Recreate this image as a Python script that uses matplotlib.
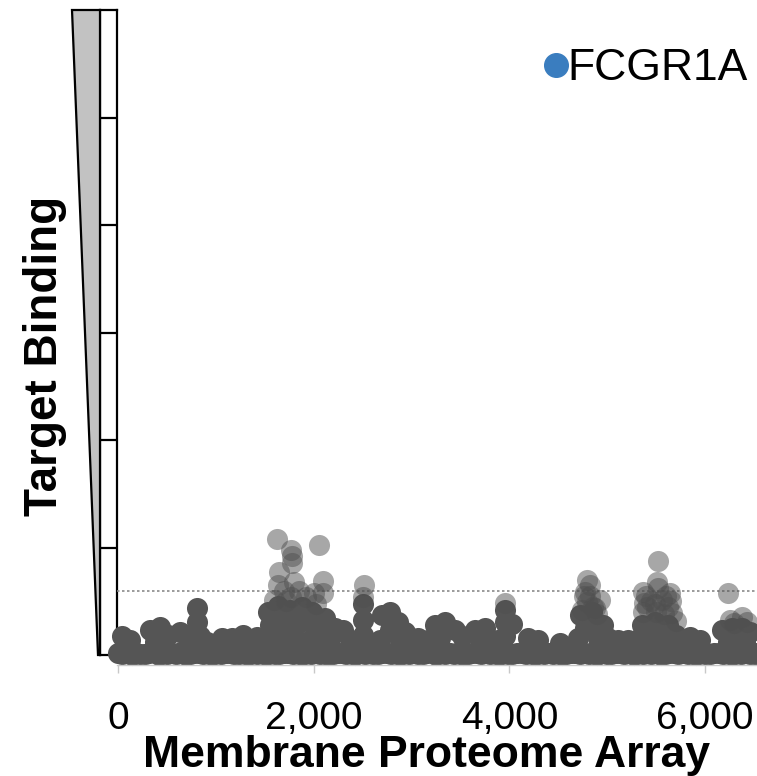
import matplotlib
matplotlib.use("Agg")
import matplotlib.pyplot as plt
from matplotlib.patches import Polygon
from matplotlib.lines import Line2D

plt.rcParams['font.family'] = ['Liberation Sans', 'DejaVu Sans']

# background proteins near zero (array index, binding signal)
base1_x = [0, 95, 185, 275, 370, 460, 550, 645, 735, 825,
           915, 1010, 1100, 1190, 1285, 1375, 1465, 1560, 1650, 1740,
           1830, 1925, 2015, 2105, 2200, 2290, 2380, 2475, 2565, 2655,
           2750, 2840, 2930, 3025, 3115, 3205, 3300, 3390, 3480, 3575,
           3665, 3755, 3850, 3940, 4030, 4125, 4215, 4305, 4400, 4490,
           4580, 4675, 4765, 4855, 4950, 5040, 5130, 5225, 5315, 5405,
           5500, 5590, 5680, 5775, 5865, 5955, 6050, 6140, 6230, 6325,
           6415, 6505, 6560]
base1_y = [0.02, 0.03, 0.02, 0.01, 0.03, 0.02, 0.02, 0.03, 0.01, 0.02,
           0.03, 0.02, 0.02, 0.01, 0.03, 0.02, 0.03, 0.02, 0.01, 0.02,
           0.03, 0.02, 0.02, 0.03, 0.01, 0.02, 0.03, 0.02, 0.02, 0.01,
           0.02, 0.03, 0.02, 0.02, 0.01, 0.03, 0.02, 0.02, 0.03, 0.01,
           0.02, 0.02, 0.03, 0.02, 0.01, 0.02, 0.03, 0.02, 0.02, 0.03,
           0.01, 0.02, 0.02, 0.03, 0.02, 0.01, 0.02, 0.03, 0.02, 0.02,
           0.03, 0.01, 0.02, 0.02, 0.03, 0.02, 0.01, 0.02, 0.03, 0.02,
           0.02, 0.01, 0.02]
base2_x = [45, 140, 230, 320, 415, 505, 595, 690, 780, 870,
           965, 1055, 1145, 1240, 1330, 1420, 1515, 1605, 1695, 1790,
           1880, 1970, 2060, 2150, 2245, 2335, 2425, 2520, 2610, 2700,
           2795, 2885, 2975, 3070, 3160, 3250, 3345, 3435, 3525, 3620,
           3710, 3800, 3895, 3985, 4075, 4170, 4260, 4350, 4445, 4535,
           4625, 4720, 4810, 4900, 4995, 5085, 5175, 5270, 5360, 5450,
           5545, 5635, 5725, 5820, 5910, 6000, 6095, 6185, 6275, 6370,
           6460, 6530]
base2_y = [0.01, 0.0, 0.01, 0.02, 0.0, 0.01, 0.01, 0.0, 0.02, 0.01,
           0.0, 0.01, 0.02, 0.01, 0.0, 0.01, 0.0, 0.01, 0.02, 0.01,
           0.0, 0.01, 0.01, 0.0, 0.02, 0.01, 0.0, 0.01, 0.01, 0.02,
           0.01, 0.0, 0.01, 0.01, 0.02, 0.0, 0.01, 0.01, 0.0, 0.02,
           0.01, 0.01, 0.0, 0.01, 0.02, 0.01, 0.0, 0.01, 0.01, 0.0,
           0.02, 0.01, 0.01, 0.0, 0.01, 0.02, 0.01, 0.0, 0.01, 0.01,
           0.0, 0.02, 0.01, 0.01, 0.0, 0.01, 0.02, 0.01, 0.0, 0.01,
           0.01, 0.02]

# low-signal proteins forming the dark mass
mass_x = [41, 123, 327, 429, 511, 378, 634, 715, 807, 807,
          838, 910, 1063, 1165, 1278, 1349, 1421,
          1533, 1635, 1758, 1880, 1983, 2115, 2218, 1553, 1707, 1860,
          2013, 2167, 1502, 1656, 1809, 1962, 2085, 2300, 2371,
          2504, 2504, 2504, 2698, 2780, 2862, 2933, 2780, 2678, 2882,
          3066, 3168, 3240, 3342, 3444, 3516, 3291, 3649, 3751, 3700,
          3955, 3955, 3955, 4027, 3884, 4190, 4292, 4517,
          4722, 4844, 4957, 4773, 4906, 4701, 5008, 5110, 5212,
          5355, 5488, 5621, 5703, 5417, 5560, 5335, 5703, 5846, 5948,
          6173, 6275, 6377, 6459, 6234, 6408]
mass_y = [0.18, 0.14, 0.23, 0.26, 0.19, 0.12, 0.21, 0.18, 0.44, 0.31,
          0.18, 0.12, 0.16, 0.16, 0.19, 0.14, 0.17,
          0.40, 0.46, 0.42, 0.45, 0.40, 0.34, 0.25, 0.28, 0.31, 0.31,
          0.25, 0.16, 0.14, 0.14, 0.16, 0.14, 0.12, 0.23, 0.14,
          0.47, 0.33, 0.19, 0.37, 0.40, 0.31, 0.21, 0.23, 0.14, 0.14,
          0.16, 0.14, 0.28, 0.31, 0.23, 0.18, 0.16, 0.23, 0.25, 0.14,
          0.42, 0.31, 0.18, 0.29, 0.14, 0.16, 0.14, 0.11,
          0.37, 0.40, 0.28, 0.25, 0.16, 0.16, 0.16, 0.14, 0.14,
          0.28, 0.31, 0.28, 0.19, 0.14, 0.16, 0.16, 0.12, 0.17, 0.14,
          0.23, 0.25, 0.25, 0.21, 0.12, 0.12]

# proteins with raised signal
hit_x = [1622, 1765, 1775, 1775, 2050, 1642, 1795, 2091, 1632, 2091,
         1591, 1918, 1765, 2020, 2509, 2499, 1700, 1850, 2000, 1720,
         3958,
         4794, 4825, 4774, 4794, 4927, 4876, 4760, 4820, 4850, 4740, 4900,
         5518, 5508, 5518, 5365, 5641, 5406, 5620, 5365, 5661, 5488, 5559,
         5400, 5450, 5600, 5650, 5380, 5500, 5580, 5700,
         6232, 6253, 6375, 6426, 6300]
hit_y = [1.08, 0.98, 0.92, 0.86, 1.02, 0.77, 0.68, 0.69, 0.65, 0.58,
         0.51, 0.54, 0.54, 0.47, 0.65, 0.54, 0.60, 0.60, 0.58, 0.50,
         0.48,
         0.70, 0.65, 0.59, 0.49, 0.51, 0.44, 0.55, 0.55, 0.45, 0.42, 0.38,
         0.87, 0.68, 0.62, 0.59, 0.58, 0.45, 0.45, 0.40, 0.39, 0.47, 0.51,
         0.55, 0.50, 0.55, 0.50, 0.48, 0.40, 0.38, 0.32,
         0.58, 0.33, 0.35, 0.31, 0.30]

threshold = 0.6
x_ticks = [0, 2000, 4000, 6000]
x_ticklabels = ['0', '2,000', '4,000', '6,000']
box_ticks = [1, 2, 3, 4, 5]

W, H = 757, 776
fig = plt.figure(figsize=(W / 100, H / 100), dpi=100)

def fx(px):
    return px / W

def fy(py):
    return 1 - py / H

ax = fig.add_axes([fx(117), fy(655), fx(757) - fx(117), fy(10) - fy(655)])
ax.set_xlim(-10, 6530)
ax.set_ylim(0, 6)

ax.axhline(threshold, color='#8a8a8a', lw=1.2, ls=(0, (1.5, 1.5)), zorder=1)

dark = '#555555'
msize = 230
ax.scatter(base1_x, base1_y, s=msize, color=dark, linewidths=0, clip_on=False, zorder=2)
ax.scatter(base2_x, base2_y, s=msize, color=dark, linewidths=0, clip_on=False, zorder=2)
ax.scatter(mass_x, mass_y, s=msize, color=dark, linewidths=0, clip_on=False, zorder=2)
ax.scatter(hit_x, hit_y, s=msize, color='#505050', alpha=0.5, linewidths=0,
           clip_on=False, zorder=3)

for side in ['top', 'right', 'left']:
    ax.spines[side].set_visible(False)
ax.spines['bottom'].set_position(('outward', 7))
ax.spines['bottom'].set_color('#c8c8c8')
ax.spines['bottom'].set_linewidth(1.0)
ax.set_yticks([])
ax.set_xticks(x_ticks)
ax.set_xticklabels(x_ticklabels, fontsize=28)
ax.tick_params(axis='x', length=6, width=1, color='#c8c8c8', pad=20)

# y axis box
bax = fig.add_axes([fx(100), fy(655), fx(117) - fx(100), fy(10) - fy(655)])
bax.set_xlim(0, 1)
bax.set_ylim(0, 6)
bax.set_xticks([])
bax.set_yticks([])
for s in bax.spines.values():
    s.set_linewidth(1.6)
    s.set_color('black')
bax.hlines(box_ticks, 0, 1, color='black', lw=1.6)
bax.set_zorder(ax.get_zorder() - 1)
ax.patch.set_alpha(0)

# wedge
wedge = Polygon([(fx(72), fy(10)), (fx(100), fy(10)), (fx(100), fy(655)), (fx(98), fy(655))],
                closed=True, transform=fig.transFigure, facecolor='#c2c2c2',
                edgecolor='black', lw=1.6)
fig.patches.append(wedge)

fig.text(fx(45), fy(356), 'Target Binding', rotation=90, fontsize=33,
         fontweight='bold', ha='center', va='center')
fig.text(fx(427), fy(755), 'Membrane Proteome Array', fontsize=32,
         fontweight='bold', ha='center', va='center')

handle = Line2D([], [], marker='o', ls='none', color='#3a7dbf', markersize=17)
fig.legend([handle], ['FCGR1A'], loc='center left',
           bbox_to_anchor=(fx(545), fy(69)), frameon=False, fontsize=32,
           handlelength=0.5, handletextpad=0.0, borderpad=0, borderaxespad=0)

fig.savefig('out.png', dpi=100)
